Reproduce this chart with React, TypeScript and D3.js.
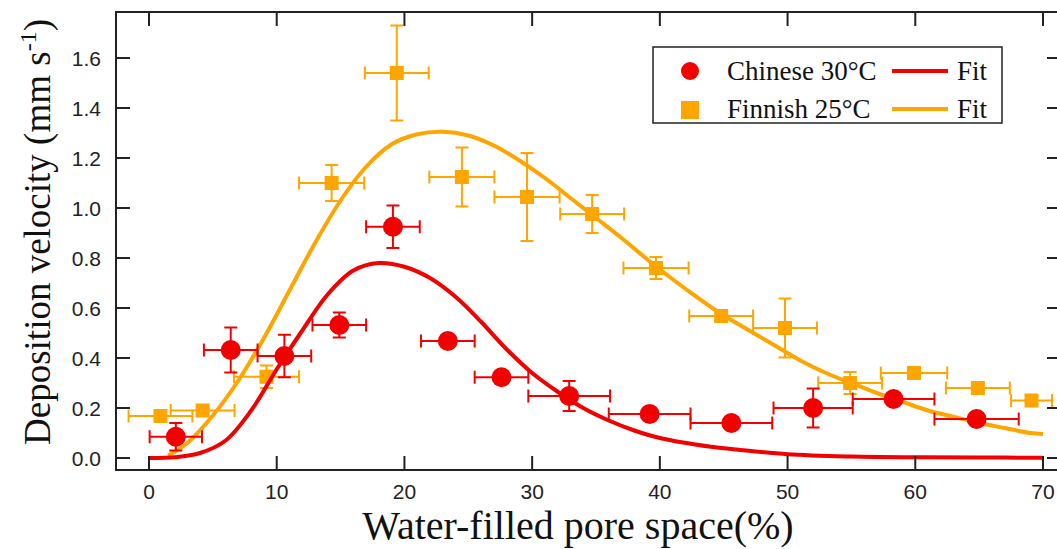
import React from "react";
import * as d3 from "d3";

// ---- Data ----
const chineseX = [2.1, 6.4, 10.6, 14.9, 19.1, 23.4, 27.6, 32.9, 39.2, 45.6, 52.0, 58.3, 64.8];
const chineseY = [0.085, 0.432, 0.408, 0.532, 0.925, 0.468, 0.323, 0.248, 0.176, 0.14, 0.2, 0.236, 0.156];
const chineseXErr = [2.05, 2.1, 2.1, 2.1, 2.1, 2.1, 2.1, 3.2, 3.2, 3.2, 3.1, 3.2, 3.3];
const chineseYErr = [0.055, 0.09, 0.085, 0.05, 0.085, 0, 0.02, 0.06, 0.025, 0.01, 0.078, 0.01, 0.01];

const finnishX = [0.9, 4.2, 9.2, 14.3, 19.4, 24.5, 29.6, 34.7, 39.7, 44.8, 49.8, 54.9, 59.9, 64.9, 69.1];
const finnishY = [0.168, 0.19, 0.325, 1.1, 1.54, 1.124, 1.044, 0.976, 0.76, 0.568, 0.52, 0.3, 0.34, 0.28, 0.23];
const finnishXErr = [2.5, 2.5, 2.55, 2.55, 2.5, 2.55, 2.55, 2.5, 2.55, 2.5, 2.5, 2.5, 2.6, 2.5, 1.6];
const finnishYErr = [0.01, 0.01, 0.045, 0.072, 0.19, 0.118, 0.176, 0.076, 0.044, 0.02, 0.118, 0.044, 0.01, 0.01, 0.01];

// Fit curves
const chineseFitX = [0, 2, 4, 6, 8, 10, 12, 14, 16, 18, 20, 22, 24, 26, 28, 30, 32, 34, 36, 38, 40, 44, 46, 50, 55, 60, 65, 70];
const chineseFitY = [0, 0.003, 0.02, 0.07, 0.19, 0.355, 0.51, 0.655, 0.75, 0.78, 0.765, 0.72, 0.645, 0.545, 0.435, 0.34, 0.265, 0.2, 0.15, 0.11, 0.08, 0.045, 0.034, 0.015, 0.006, 0.003, 0.002, 0.001];

const finnishFitX = [1.5, 3, 5, 7, 9, 11, 13, 15, 17, 19, 21, 23, 25, 27, 29, 31, 33, 35, 37, 39, 41, 43, 45, 47, 49, 51, 53, 55, 57, 59, 61, 63, 65, 67, 69, 70];
const finnishFitY = [0.01, 0.06, 0.17, 0.31, 0.48, 0.67, 0.86, 1.03, 1.165, 1.255, 1.295, 1.305, 1.29, 1.25, 1.19, 1.12, 1.04, 0.96, 0.88, 0.795, 0.715, 0.64, 0.57, 0.51, 0.45, 0.39, 0.34, 0.3, 0.26, 0.225, 0.19, 0.165, 0.14, 0.12, 0.1, 0.096];

const xTicks = [0, 10, 20, 30, 40, 50, 60, 70];
const yTicks = [0, 0.2, 0.4, 0.6, 0.8, 1.0, 1.2, 1.4, 1.6];

const legendLabels = ["Chinese 30°C", "Finnish 25°C"];
const fitLabel = "Fit";
const xTitle = "Water-filled pore space(%)";
const yTitle = "Deposition velocity (mm s";

const RED = "#f20000";
const ORANGE = "#ffa500";

const W = 1057;
const H = 549;
const frame = { left: 116, right: 1061, top: 12, bottom: 470 };

export default function App() {
  const x = d3.scaleLinear().domain([0, 70]).range([149, 1043]);
  const y = d3.scaleLinear().domain([0, 1.6]).range([458, 58]);

  const line = d3
    .line<[number, number]>()
    .x((d) => x(d[0]))
    .y((d) => y(d[1]))
    .curve(d3.curveCatmullRom.alpha(0.5));

  const chineseFit = line(chineseFitX.map((v, i) => [v, chineseFitY[i]] as [number, number])) || "";
  const finnishFit = line(finnishFitX.map((v, i) => [v, finnishFitY[i]] as [number, number])) || "";

  const tickLen = 14;
  const serif = "'Liberation Serif', 'Times New Roman', serif";
  const sans = "'Liberation Sans', Arial, sans-serif";

  const errBars = (
    xs: number[],
    ys: number[],
    xe: number[],
    ye: number[],
    color: string,
    key: string
  ) =>
    xs.map((xv, i) => {
      const cx = x(xv);
      const cy = y(ys[i]);
      const x0 = x(xv - xe[i]);
      const x1 = x(xv + xe[i]);
      const y0 = y(ys[i] - ye[i]);
      const y1 = y(ys[i] + ye[i]);
      const cap = 6.5;
      return (
        <g key={key + i} stroke={color} strokeWidth={2} fill="none">
          <line x1={x0} x2={x1} y1={cy} y2={cy} />
          <line x1={x0} x2={x0} y1={cy - cap} y2={cy + cap} />
          <line x1={x1} x2={x1} y1={cy - cap} y2={cy + cap} />
          {ye[i] > 0.015 && (
            <>
              <line x1={cx} x2={cx} y1={y0} y2={y1} />
              <line x1={cx - cap} x2={cx + cap} y1={y0} y2={y0} />
              <line x1={cx - cap} x2={cx + cap} y1={y1} y2={y1} />
            </>
          )}
        </g>
      );
    });

  return (
    <svg
      width={W}
      height={H}
      style={{ position: "absolute", left: 0, top: 0, background: "#fff" }}
    >
      <defs>
        <clipPath id="plotClip">
          <rect
            x={frame.left}
            y={frame.top}
            width={frame.right - frame.left}
            height={frame.bottom - frame.top}
          />
        </clipPath>
      </defs>
      <rect x={0} y={0} width={W} height={H} fill="#fff" />

      <g clipPath="url(#plotClip)">
        {errBars(finnishX, finnishY, finnishXErr, finnishYErr, ORANGE, "fe")}
        <path d={finnishFit} fill="none" stroke={ORANGE} strokeWidth={4} />
        {finnishX.map((xv, i) => (
          <rect
            key={"fs" + i}
            x={x(xv) - 7}
            y={y(finnishY[i]) - 7}
            width={14}
            height={14}
            fill={ORANGE}
          />
        ))}
        {errBars(chineseX, chineseY, chineseXErr, chineseYErr, RED, "ce")}
        <path d={chineseFit} fill="none" stroke={RED} strokeWidth={4} />
        {chineseX.map((xv, i) => (
          <circle key={"cc" + i} cx={x(xv)} cy={y(chineseY[i])} r={10} fill={RED} />
        ))}
      </g>

      {/* frame */}
      <rect
        x={frame.left}
        y={frame.top}
        width={frame.right - frame.left}
        height={frame.bottom - frame.top}
        fill="none"
        stroke="#222"
        strokeWidth={2}
      />

      {/* x ticks */}
      {xTicks.map((t) => (
        <g key={"xt" + t} stroke="#222" strokeWidth={2}>
          <line x1={x(t)} x2={x(t)} y1={frame.bottom} y2={frame.bottom - tickLen} />
          <line x1={x(t)} x2={x(t)} y1={frame.top} y2={frame.top + tickLen} />
        </g>
      ))}
      {xTicks.map((t) => (
        <text
          key={"xl" + t}
          x={x(t)}
          y={499}
          textAnchor="middle"
          fontFamily={sans}
          fontSize={21}
          fill="#222"
        >
          {t}
        </text>
      ))}

      {/* y ticks */}
      {yTicks.map((t) => (
        <g key={"yt" + t} stroke="#222" strokeWidth={2}>
          <line x1={frame.left} x2={frame.left + tickLen} y1={y(t)} y2={y(t)} />
          <line x1={frame.right} x2={frame.right - tickLen} y1={y(t)} y2={y(t)} />
        </g>
      ))}
      {yTicks.map((t) => (
        <text
          key={"yl" + t}
          x={101}
          y={y(t) + 7.5}
          textAnchor="end"
          fontFamily={sans}
          fontSize={21}
          fill="#222"
        >
          {t.toFixed(1)}
        </text>
      ))}

      {/* axis titles */}
      <text
        x={578}
        y={539}
        textAnchor="middle"
        fontFamily={serif}
        fontSize={40}
        fill="#111"
      >
        {xTitle}
      </text>
      <text
        transform={`translate(50, 232) rotate(-90)`}
        textAnchor="middle"
        fontFamily={serif}
        fontSize={37}
        fill="#111"
      >
        {yTitle}
        <tspan fontSize={24} dy={-14}>-1</tspan>
        <tspan dy={14}>)</tspan>
      </text>

      {/* legend */}
      <rect x={653} y={47} width={349} height={76} fill="#fff" stroke="#222" strokeWidth={1.5} />
      <circle cx={690} cy={71} r={9} fill={RED} />
      <rect x={681} y={101} width={18} height={18} fill={ORANGE} />
      {legendLabels.map((l, i) => (
        <text
          key={"lg" + i}
          x={727}
          y={80 + i * 38}
          fontFamily={serif}
          fontSize={27}
          fill="#111"
        >
          {l}
        </text>
      ))}
      <line x1={892} x2={948} y1={71} y2={71} stroke={RED} strokeWidth={4} />
      <line x1={892} x2={948} y1={109} y2={109} stroke={ORANGE} strokeWidth={4} />
      {[0, 1].map((i) => (
        <text
          key={"fit" + i}
          x={957}
          y={80 + i * 38}
          fontFamily={serif}
          fontSize={27}
          fill="#111"
        >
          {fitLabel}
        </text>
      ))}
    </svg>
  );
}
